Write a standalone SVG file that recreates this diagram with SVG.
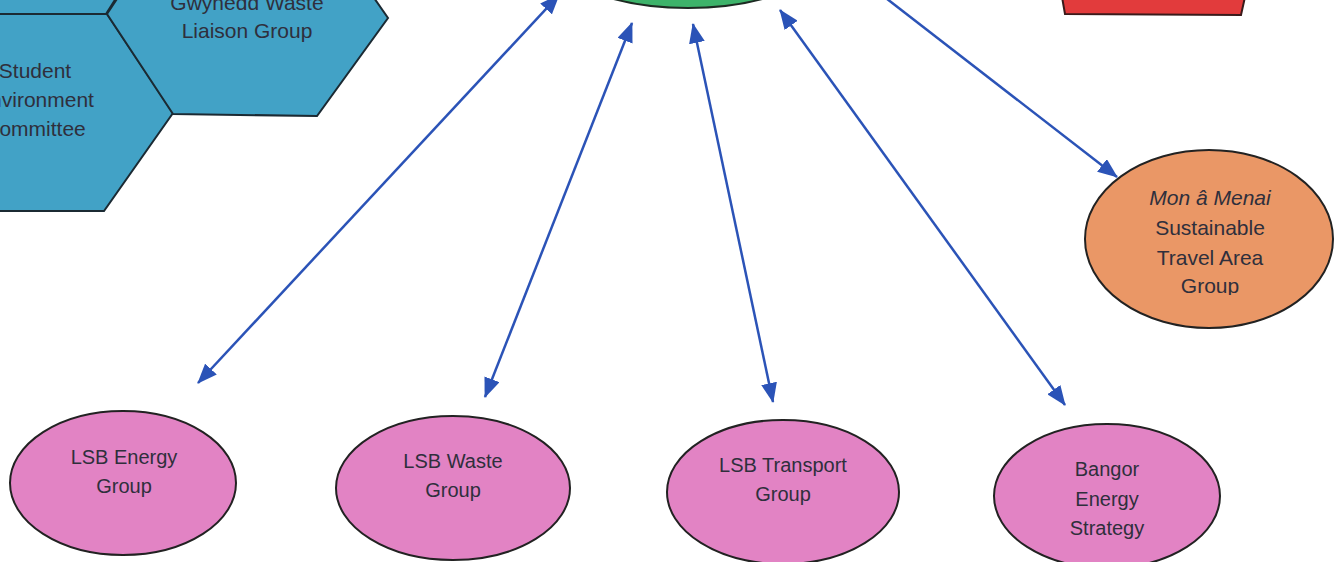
<svg xmlns="http://www.w3.org/2000/svg" width="1335" height="562" viewBox="0 0 1335 562">
<style>
.t{font-family:"Liberation Sans",Arial,sans-serif;font-size:20px;fill:#2f2f3c;text-anchor:middle}
.tl{font-size:21px}
.hex{fill:#42a2c6;stroke:#1b2a33;stroke-width:2}
.pink{fill:#e283c4;stroke:#222;stroke-width:2}
.conn{fill:none;stroke:#2b53b7;stroke-width:2.5;marker-start:url(#ah);marker-end:url(#ah)}
</style>
<defs>
<marker id="ah" viewBox="0 0 20 16" refX="19" refY="8" markerWidth="20" markerHeight="16" orient="auto-start-reverse" markerUnits="userSpaceOnUse">
<path d="M0,0 L20,8 L0,16 z" fill="#2b53b7"/>
</marker>
<clipPath id="clipOrange"><rect x="1080" y="140" width="260" height="155"/></clipPath>
</defs>
<rect width="1335" height="562" fill="#ffffff"/>

<g id="hex-top-left">
<polygon class="hex" points="-10,-100 -10,14 106,14 172,-90"/>
</g>
<g id="hex-student">
<polygon class="hex" points="-10,14 107,14 173,113 104,211 -10,211"/>
<text class="t tl" x="35" y="78">Student</text>
<text class="t tl" x="35" y="107">Environment</text>
<text class="t tl" x="35" y="136">Committee</text>
</g>
<g id="hex-gwynedd">
<polygon class="hex" points="107,14 173,-86 317,-84 388,18 317,116 173,114"/>
<text class="t tl" x="247" y="10">Gwynedd Waste</text>
<text class="t tl" x="247" y="38">Liaison Group</text>
</g>
<g id="green-centre">
<ellipse cx="688" cy="-62" rx="150" ry="70" fill="#3db36a" stroke="#1d2a22" stroke-width="2"/>
</g>
<g id="red-box">
<polygon points="1062,-3 1065,14 1241,15 1245,-3" fill="#e23b3c" stroke="#3a1a1a" stroke-width="2"/>
</g>
<g id="mon-a-menai">
<ellipse cx="1209" cy="239" rx="124" ry="89" fill="#ea9766" stroke="#222" stroke-width="2"/>
<g clip-path="url(#clipOrange)">
<text class="t tl" x="1210" y="205" font-style="italic">Mon â Menai</text>
<text class="t tl" x="1210" y="235">Sustainable</text>
<text class="t tl" x="1210" y="265">Travel Area</text>
<text class="t tl" x="1210" y="293">Group</text>
</g>
</g>
<g id="lsb-energy">
<ellipse class="pink" cx="123" cy="483" rx="113" ry="72"/>
<text class="t" x="124" y="464">LSB Energy</text>
<text class="t" x="124" y="493">Group</text>
</g>
<g id="lsb-waste">
<ellipse class="pink" cx="453" cy="488" rx="117" ry="72"/>
<text class="t" x="453" y="468">LSB Waste</text>
<text class="t" x="453" y="497">Group</text>
</g>
<g id="lsb-transport">
<ellipse class="pink" cx="783" cy="492" rx="116" ry="72"/>
<text class="t" x="783" y="472">LSB Transport</text>
<text class="t" x="783" y="501">Group</text>
</g>
<g id="bangor-energy">
<ellipse class="pink" cx="1107" cy="496" rx="113" ry="72"/>
<text class="t" x="1107" y="476">Bangor</text>
<text class="t" x="1107" y="506">Energy</text>
<text class="t" x="1107" y="535">Strategy</text>
</g>

<g id="connectors">
<path class="conn" d="M559,-5 L198,383"/>
<path class="conn" d="M632,23 L485,397"/>
<path class="conn" d="M693,24 L773,402"/>
<path class="conn" d="M780,10 L1065,405"/>
<path class="conn" d="M860,-22 L1117,177"/>
</g>
</svg>
